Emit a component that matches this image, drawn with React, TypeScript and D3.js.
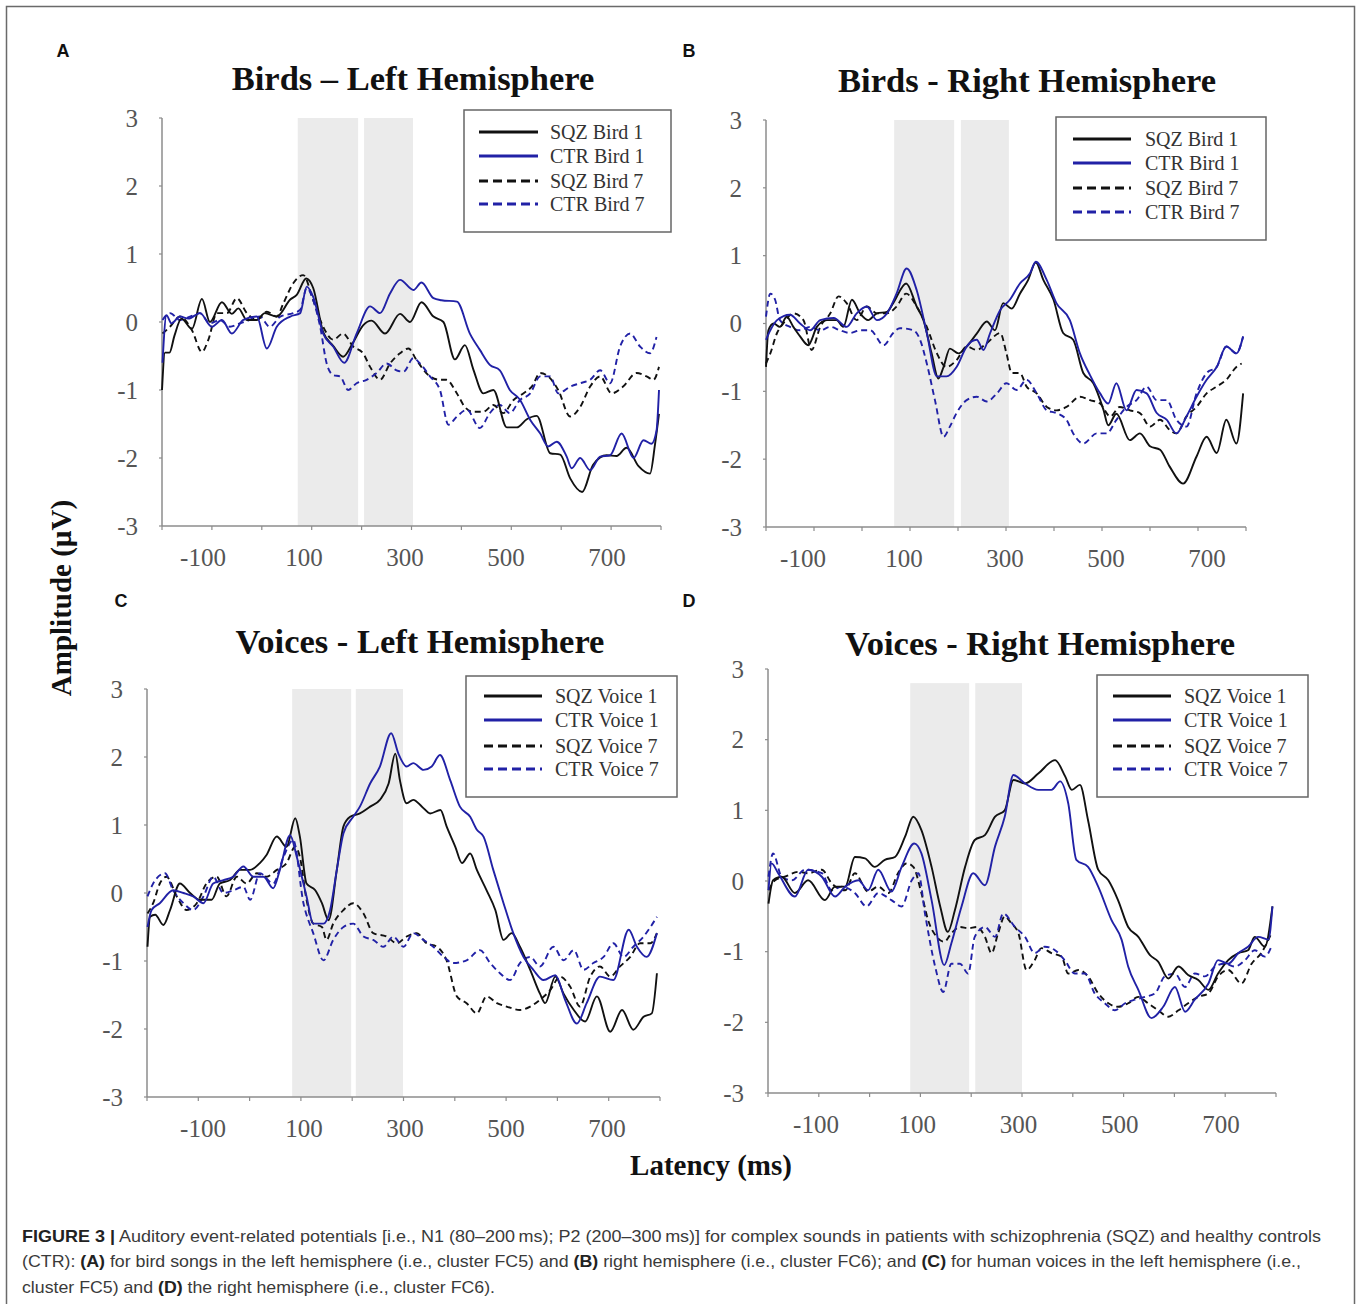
import React from "react";
import * as d3 from "d3";

type Pt = [number, number];

// ---------- tick values and labels ----------
const yTickValues = [-3, -2, -1, 0, 1, 2, 3];
const xTickValues = [-200, -100, 0, 100, 200, 300, 400, 500, 600, 700, 800];
const xTickLabels = [-100, 100, 300, 500, 700];
const birdLabels = ["SQZ Bird 1", "CTR Bird 1", "SQZ Bird 7", "CTR Bird 7"];
const voiceLabels = ["SQZ Voice 1", "CTR Voice 1", "SQZ Voice 7", "CTR Voice 7"];
const panelTitles = ["Birds \u2013 Left Hemisphere", "Birds - Right Hemisphere", "Voices - Left Hemisphere", "Voices - Right Hemisphere"];
const panelLetters = ["A", "B", "C", "D"];

// ---------- time windows (ms): N1 and P2 shaded bands ----------
const bandsA: Pt[] = [[72, 193], [205, 303]];
const bandsB: Pt[] = [[67, 192], [206, 306]];
const bandsC: Pt[] = [[83, 198], [207, 299]];
const bandsD: Pt[] = [[80, 196], [208, 300]];

// ---------- data: [latency ms, amplitude µV] ----------
const birdsLeftSqz1: Pt[] = [[-200,-1.0],[-194,-0.45],[-185,-0.45],[-175,-0.2],[-161,0.05],[-140,-0.1],[-120,0.34],[-104,0.0],[-80,0.29],[-60,0.12],[-47,0.2],[-30,0.03],[-10,0.03],[6,0.13],[30,0.08],[57,0.33],[70,0.4],[89,0.64],[103,0.5],[123,-0.15],[143,-0.35],[163,-0.51],[183,-0.3],[203,-0.05],[220,0.02],[247,-0.17],[277,0.12],[297,0.0],[320,0.29],[344,0.08],[364,0.0],[387,-0.55],[407,-0.34],[424,-0.7],[444,-1.05],[464,-1.0],[491,-1.55],[511,-1.55],[531,-1.43],[551,-1.38],[578,-1.93],[598,-1.95],[618,-2.3],[642,-2.5],[664,-2.1],[691,-1.96],[711,-1.97],[731,-1.85],[755,-2.12],[778,-2.23],[788,-1.8],[796,-1.35]];
const birdsLeftCtr1: Pt[] = [[-199,-0.6],[-191,0.1],[-181,-0.02],[-164,0.08],[-147,0.05],[-124,0.13],[-100,-0.07],[-80,0.03],[-60,-0.17],[-37,0.03],[-10,0.08],[10,-0.39],[30,-0.07],[57,0.08],[77,0.13],[90,0.52],[103,0.37],[123,-0.17],[143,-0.36],[165,-0.6],[190,-0.17],[217,0.23],[237,0.13],[257,0.42],[277,0.62],[304,0.47],[320,0.58],[344,0.35],[360,0.32],[391,0.3],[417,-0.17],[437,-0.41],[457,-0.63],[477,-0.71],[497,-1.0],[517,-1.14],[538,-1.44],[558,-1.64],[574,-1.83],[591,-1.76],[611,-1.98],[621,-2.15],[638,-2.0],[658,-2.18],[678,-1.98],[698,-1.96],[721,-1.64],[745,-2.0],[765,-1.74],[781,-1.79],[791,-1.6],[796,-1.0]];
const birdsLeftSqz7: Pt[] = [[-199,-0.17],[-184,-0.07],[-164,0.08],[-140,-0.12],[-120,-0.44],[-107,-0.26],[-90,0.13],[-70,0.13],[-50,0.35],[-30,0.13],[-10,0.03],[10,0.15],[30,0.08],[43,0.27],[63,0.57],[83,0.69],[103,0.32],[123,-0.07],[143,-0.26],[163,-0.17],[183,-0.36],[203,-0.46],[217,-0.66],[237,-0.85],[257,-0.61],[277,-0.46],[294,-0.39],[310,-0.56],[337,-0.8],[357,-0.85],[370,-0.85],[391,-1.05],[407,-1.25],[424,-1.32],[444,-1.32],[464,-1.22],[484,-1.34],[504,-1.15],[524,-1.05],[541,-0.95],[558,-0.75],[574,-0.8],[594,-1.0],[618,-1.39],[638,-1.25],[658,-0.95],[678,-0.8],[701,-1.05],[724,-0.95],[751,-0.75],[771,-0.8],[785,-0.85],[796,-0.66]];
const birdsLeftCtr7: Pt[] = [[-199,0.03],[-184,0.13],[-164,0.03],[-144,0.08],[-124,0.13],[-104,-0.02],[-84,0.03],[-64,-0.07],[-44,-0.02],[-24,0.03],[-4,0.08],[16,-0.07],[37,0.08],[63,0.13],[77,0.18],[90,0.5],[103,0.32],[117,-0.07],[130,-0.61],[143,-0.78],[157,-0.8],[173,-1.0],[190,-0.9],[210,-0.85],[230,-0.75],[250,-0.61],[270,-0.71],[284,-0.73],[304,-0.53],[317,-0.61],[337,-0.8],[357,-1.0],[374,-1.51],[391,-1.39],[411,-1.29],[437,-1.56],[457,-1.34],[477,-1.22],[497,-1.34],[517,-1.15],[538,-1.05],[558,-0.8],[578,-0.8],[594,-1.05],[618,-0.95],[638,-0.9],[658,-0.85],[678,-0.71],[698,-0.9],[718,-0.36],[738,-0.17],[758,-0.36],[778,-0.46],[791,-0.22]];

const birdsRightSqz1: Pt[] = [[-200,-0.64],[-195,-0.1],[-184,0.0],[-171,-0.05],[-157,0.1],[-143,-0.05],[-129,-0.19],[-112,-0.32],[-94,-0.05],[-73,0.05],[-53,0.05],[-39,-0.05],[-21,0.35],[-4,0.15],[13,0.05],[31,0.15],[52,0.17],[65,0.3],[92,0.59],[114,0.25],[128,0.05],[145,-0.44],[159,-0.81],[170,-0.64],[183,-0.37],[201,-0.44],[218,-0.34],[239,-0.15],[260,0.03],[277,-0.1],[294,0.3],[312,0.22],[329,0.44],[346,0.64],[362,0.9],[378,0.64],[399,0.35],[419,-0.14],[440,-0.24],[461,-0.73],[482,-0.88],[503,-1.27],[513,-1.5],[530,-1.33],[558,-1.72],[579,-1.62],[600,-1.81],[621,-1.86],[641,-2.11],[669,-2.36],[697,-1.96],[718,-1.67],[739,-1.91],[759,-1.42],[780,-1.77],[794,-1.03]];
const birdsRightCtr1: Pt[] = [[-200,-0.24],[-191,-0.1],[-177,0.05],[-150,0.13],[-129,0.0],[-108,-0.1],[-87,0.05],[-59,0.08],[-32,-0.05],[-11,0.15],[10,0.25],[31,0.05],[52,0.15],[72,0.44],[93,0.81],[114,0.49],[135,-0.14],[156,-0.78],[176,-0.78],[197,-0.64],[218,-0.34],[239,-0.24],[253,-0.39],[267,-0.14],[288,0.2],[308,0.35],[329,0.59],[350,0.74],[362,0.91],[385,0.64],[405,0.3],[433,0.05],[454,-0.44],[475,-0.76],[496,-1.03],[513,-1.18],[530,-0.88],[551,-1.28],[572,-0.98],[593,-1.03],[614,-1.32],[635,-1.42],[655,-1.62],[676,-1.37],[697,-1.08],[718,-0.83],[739,-0.64],[759,-0.34],[780,-0.44],[794,-0.19]];
const birdsRightSqz7: Pt[] = [[-200,-0.59],[-191,-0.44],[-177,-0.14],[-164,0.0],[-143,0.15],[-122,0.05],[-105,-0.39],[-87,-0.05],[-66,0.15],[-49,0.4],[-32,0.3],[-11,0.05],[10,0.25],[31,0.15],[52,0.15],[72,0.25],[92,0.44],[114,0.25],[135,-0.05],[156,-0.44],[176,-0.64],[197,-0.54],[218,-0.34],[239,-0.39],[260,-0.29],[288,-0.14],[301,-0.44],[312,-0.73],[329,-0.73],[343,-0.93],[364,-1.03],[385,-1.23],[405,-1.28],[426,-1.23],[454,-1.08],[475,-1.13],[496,-1.18],[517,-1.37],[537,-1.23],[558,-1.28],[579,-1.32],[600,-1.52],[621,-1.42],[641,-1.57],[655,-1.62],[676,-1.37],[697,-1.23],[718,-1.03],[739,-0.93],[759,-0.83],[780,-0.64],[791,-0.59]];
const birdsRightCtr7: Pt[] = [[-200,0.1],[-191,0.44],[-181,0.35],[-171,0.05],[-150,-0.05],[-129,-0.1],[-108,-0.05],[-87,-0.1],[-66,-0.05],[-46,-0.1],[-25,-0.14],[-4,-0.1],[17,-0.1],[45,-0.32],[65,-0.14],[79,-0.07],[107,-0.1],[121,-0.24],[135,-0.59],[152,-1.13],[170,-1.67],[183,-1.52],[197,-1.32],[218,-1.13],[239,-1.08],[260,-1.15],[281,-1.03],[301,-0.88],[322,-0.98],[343,-0.83],[364,-1.03],[385,-1.28],[405,-1.32],[426,-1.42],[440,-1.62],[461,-1.77],[489,-1.62],[510,-1.62],[530,-1.42],[551,-1.23],[572,-1.13],[593,-0.93],[614,-1.13],[635,-1.13],[655,-1.42],[676,-1.52],[697,-1.03],[718,-0.73],[739,-0.64],[759,-0.34],[780,-0.44],[794,-0.19]];

const voicesLeftSqz1: Pt[] = [[-199,-0.79],[-194,-0.35],[-184,-0.32],[-168,-0.47],[-155,-0.25],[-136,0.14],[-116,0.0],[-97,-0.1],[-74,-0.1],[-58,0.14],[-38,0.19],[-19,0.34],[1,0.34],[20,0.44],[33,0.56],[53,0.83],[72,0.68],[89,1.1],[98,0.83],[111,0.14],[128,0.04],[141,-0.15],[154,-0.4],[170,0.34],[183,0.98],[196,1.12],[215,1.17],[235,1.27],[254,1.37],[271,1.61],[284,2.05],[293,1.66],[306,1.32],[319,1.37],[336,1.27],[352,1.17],[372,1.22],[384,0.98],[401,0.68],[414,0.44],[430,0.58],[443,0.34],[462,0.04],[479,-0.25],[495,-0.69],[511,-0.59],[527,-0.79],[547,-1.13],[566,-1.48],[576,-1.62],[596,-1.23],[612,-1.48],[632,-1.72],[654,-1.89],[677,-1.52],[703,-2.04],[726,-1.72],[748,-2.01],[768,-1.82],[784,-1.77],[794,-1.18]];
const voicesLeftCtr1: Pt[] = [[-199,-0.5],[-191,-0.25],[-175,-0.15],[-149,0.04],[-129,0.0],[-110,-0.05],[-90,-0.15],[-71,0.14],[-51,0.19],[-32,0.24],[-12,0.39],[7,0.24],[27,0.24],[46,0.07],[59,0.34],[79,0.85],[92,0.53],[111,-0.05],[124,-0.45],[144,-0.45],[157,-0.25],[170,0.34],[183,0.88],[202,1.12],[215,1.27],[235,1.61],[254,1.86],[276,2.35],[290,2.05],[306,1.86],[319,1.91],[339,1.81],[355,1.86],[371,2.03],[391,1.66],[410,1.27],[430,1.12],[443,0.93],[456,0.83],[475,0.34],[495,-0.15],[514,-0.59],[534,-0.94],[553,-1.13],[573,-1.28],[596,-1.21],[615,-1.57],[638,-1.92],[657,-1.62],[683,-1.23],[709,-1.28],[739,-0.54],[755,-0.79],[774,-0.94],[794,-0.59]];
const voicesLeftSqz7: Pt[] = [[-199,-0.3],[-188,-0.15],[-175,0.14],[-162,0.24],[-142,-0.05],[-123,-0.25],[-103,-0.15],[-84,0.14],[-64,0.24],[-45,-0.05],[-25,0.24],[-6,0.14],[14,0.29],[33,0.24],[53,0.34],[72,0.44],[89,0.68],[98,0.53],[111,-0.1],[124,-0.45],[141,-0.5],[150,-0.69],[163,-0.45],[183,-0.25],[202,-0.15],[222,-0.3],[241,-0.59],[267,-0.64],[287,-0.74],[306,-0.64],[326,-0.59],[345,-0.74],[365,-0.79],[384,-0.99],[404,-1.52],[423,-1.62],[443,-1.77],[462,-1.52],[482,-1.62],[501,-1.67],[527,-1.72],[547,-1.67],[566,-1.57],[586,-1.43],[605,-1.23],[625,-1.38],[644,-1.67],[664,-1.23],[683,-1.08],[703,-1.23],[722,-1.08],[742,-0.94],[761,-0.74],[781,-0.74],[794,-0.59]];
const voicesLeftCtr7: Pt[] = [[-199,-0.05],[-188,0.14],[-165,0.29],[-149,0.04],[-129,-0.15],[-110,-0.25],[-90,-0.05],[-71,0.24],[-51,0.0],[-32,0.04],[-12,0.09],[1,-0.1],[20,0.29],[46,0.14],[66,0.53],[85,0.78],[105,-0.15],[124,-0.59],[144,-0.99],[163,-0.69],[183,-0.5],[202,-0.45],[222,-0.64],[241,-0.69],[261,-0.79],[280,-0.64],[300,-0.79],[319,-0.59],[339,-0.69],[358,-0.79],[378,-0.94],[397,-1.03],[423,-0.99],[449,-0.84],[469,-1.03],[488,-1.18],[508,-1.28],[527,-1.03],[547,-0.94],[566,-1.08],[592,-0.79],[612,-0.99],[632,-0.84],[651,-1.13],[670,-1.03],[690,-0.94],[709,-0.74],[729,-0.94],[748,-0.79],[768,-0.64],[794,-0.35]];

const voicesRightSqz1: Pt[] = [[-199,-0.32],[-190,0.01],[-173,0.06],[-147,-0.17],[-121,0.01],[-88,-0.27],[-68,-0.08],[-48,-0.08],[-29,0.34],[-9,0.32],[10,0.2],[30,0.3],[50,0.34],[70,0.63],[86,0.91],[102,0.72],[122,0.2],[139,-0.36],[154,-0.72],[168,-0.41],[188,0.2],[207,0.58],[227,0.65],[247,0.91],[266,1.0],[283,1.43],[306,1.38],[332,1.52],[365,1.71],[385,1.48],[398,1.29],[414,1.36],[430,0.86],[450,0.16],[470,0.01],[489,-0.27],[509,-0.65],[529,-0.79],[552,-1.05],[568,-1.14],[588,-1.38],[608,-1.21],[627,-1.33],[647,-1.4],[667,-1.54],[686,-1.31],[706,-1.12],[726,-1.02],[745,-0.98],[758,-0.79],[778,-0.93],[793,-0.36]];
const voicesRightCtr1: Pt[] = [[-199,-0.13],[-193,0.25],[-180,0.11],[-147,-0.22],[-121,0.16],[-94,0.06],[-68,-0.22],[-48,-0.08],[-22,0.01],[-3,-0.13],[17,0.16],[43,-0.15],[63,0.2],[88,0.53],[102,0.39],[122,-0.27],[147,-1.19],[161,-0.88],[181,-0.36],[204,0.11],[227,-0.06],[247,0.49],[266,0.91],[283,1.5],[306,1.38],[332,1.29],[358,1.29],[375,1.41],[391,1.1],[407,0.3],[430,0.2],[450,-0.08],[476,-0.55],[496,-0.83],[509,-1.21],[529,-1.54],[555,-1.94],[578,-1.78],[601,-1.5],[621,-1.85],[640,-1.68],[667,-1.45],[686,-1.12],[706,-1.17],[726,-1.02],[745,-0.93],[765,-0.79],[785,-0.83],[793,-0.36]];
const voicesRightSqz7: Pt[] = [[-199,-0.13],[-186,0.01],[-167,0.06],[-140,0.13],[-121,0.11],[-94,0.16],[-75,-0.03],[-48,-0.13],[-29,0.11],[-3,-0.15],[17,-0.08],[37,-0.17],[56,0.11],[73,0.25],[86,0.2],[102,-0.17],[115,-0.55],[132,-0.79],[147,-0.86],[161,-0.74],[178,-0.65],[194,-0.67],[211,-0.65],[227,-0.79],[240,-1.02],[253,-0.74],[266,-0.5],[279,-0.6],[293,-0.74],[309,-1.26],[325,-1.12],[338,-0.95],[358,-1.02],[378,-1.07],[391,-1.31],[411,-1.26],[430,-1.35],[450,-1.59],[470,-1.73],[489,-1.78],[509,-1.73],[529,-1.64],[548,-1.73],[568,-1.83],[588,-1.92],[608,-1.83],[627,-1.73],[647,-1.64],[667,-1.59],[686,-1.35],[706,-1.26],[732,-1.45],[752,-1.17],[771,-1.02],[791,-0.74]];
const voicesRightCtr7: Pt[] = [[-199,0.06],[-190,0.39],[-173,0.06],[-153,0.01],[-127,0.16],[-94,0.11],[-75,-0.13],[-55,-0.08],[-29,-0.17],[-6,-0.36],[17,-0.17],[43,-0.27],[63,-0.36],[83,0.01],[96,0.11],[109,-0.46],[129,-1.21],[145,-1.57],[161,-1.17],[178,-1.17],[194,-1.31],[207,-0.79],[227,-0.65],[247,-0.79],[263,-0.46],[286,-0.65],[306,-0.79],[325,-1.02],[345,-0.93],[365,-0.98],[384,-1.12],[404,-1.31],[424,-1.31],[443,-1.59],[463,-1.73],[483,-1.83],[503,-1.73],[522,-1.68],[542,-1.64],[562,-1.59],[581,-1.35],[601,-1.31],[621,-1.5],[640,-1.31],[660,-1.35],[680,-1.21],[699,-1.17],[719,-1.21],[739,-1.12],[758,-0.98],[778,-1.07],[791,-0.93]];

// ---------- styles ----------
const BLACK = "#111111";
const BLUE = "#2121a6";
const seriesStyles = [
  { color: BLACK, dash: null as string | null },
  { color: BLUE, dash: null as string | null },
  { color: BLACK, dash: "6,4" },
  { color: BLUE, dash: "6,4" },
];

type Panel = {
  title: string; letter: string; labels: string[]; series: Pt[][]; bands: Pt[];
  x0: number; x1: number; yTop: number; yBot: number; bandTop: number;
  lab0: number; lab1: number;
  titleX: number; titleY: number; letterX: number; letterY: number;
  legend: { x: number; y: number; w: number; h: number; rows: number[]; lx0: number; lx1: number; tx: number };
};

const panels: Panel[] = [
  { title: panelTitles[0], letter: panelLetters[0], labels: birdLabels, series: [birdsLeftSqz1, birdsLeftCtr1, birdsLeftSqz7, birdsLeftCtr7], bands: bandsA,
    x0: 162, x1: 661, yTop: 118, yBot: 526, bandTop: 3, lab0: 203, lab1: 607, titleX: 413, titleY: 90, letterX: 63, letterY: 57,
    legend: { x: 464, y: 110, w: 207, h: 122, rows: [132, 156, 181, 204], lx0: 479, lx1: 538, tx: 550 } },
  { title: panelTitles[1], letter: panelLetters[1], labels: birdLabels, series: [birdsRightSqz1, birdsRightCtr1, birdsRightSqz7, birdsRightCtr7], bands: bandsB,
    x0: 766, x1: 1246, yTop: 120, yBot: 527, bandTop: 3, lab0: 803, lab1: 1207, titleX: 1027, titleY: 92, letterX: 689, letterY: 57,
    legend: { x: 1056, y: 117, w: 210, h: 123, rows: [139, 163, 188, 212], lx0: 1073, lx1: 1131, tx: 1145 } },
  { title: panelTitles[2], letter: panelLetters[2], labels: voiceLabels, series: [voicesLeftSqz1, voicesLeftCtr1, voicesLeftSqz7, voicesLeftCtr7], bands: bandsC,
    x0: 147, x1: 660, yTop: 689, yBot: 1097, bandTop: 3, lab0: 203, lab1: 607, titleX: 420, titleY: 653, letterX: 121, letterY: 607,
    legend: { x: 466, y: 676, w: 211, h: 121, rows: [696, 720, 746, 769], lx0: 484, lx1: 542, tx: 555 } },
  { title: panelTitles[3], letter: panelLetters[3], labels: voiceLabels, series: [voicesRightSqz1, voicesRightCtr1, voicesRightSqz7, voicesRightCtr7], bands: bandsD,
    x0: 768, x1: 1276, yTop: 669, yBot: 1093, bandTop: 2.8, lab0: 816, lab1: 1221, titleX: 1040, titleY: 655, letterX: 689, letterY: 607,
    legend: { x: 1097, y: 675, w: 211, h: 122, rows: [696, 720, 746, 769], lx0: 1113, lx1: 1171, tx: 1184 } },
];

const SERIF = "'Liberation Serif', 'Times New Roman', serif";
const SANS = "'Liberation Sans', Arial, Helvetica, sans-serif";

function PanelView({ p }: { p: Panel }) {
  const x = d3.scaleLinear().domain([-200, 800]).range([p.x0, p.x1]);
  const y = d3.scaleLinear().domain([-3, 3]).range([p.yBot, p.yTop]);
  const xLab = d3.scaleLinear().domain([-100, 700]).range([p.lab0, p.lab1]);
  const line = d3.line<Pt>().x((d) => x(d[0])).y((d) => y(d[1])).curve(d3.curveMonotoneX);
  const order = [2, 3, 0, 1];
  return (
    <g>
      {p.bands.map((b, i) => (
        <rect key={i} x={x(b[0])} y={y(p.bandTop)} width={x(b[1]) - x(b[0])} height={y(-3) - y(p.bandTop)} fill="#ebebeb" />
      ))}
      {/* axes */}
      <line x1={p.x0} x2={p.x0} y1={y(3)} y2={y(-3)} stroke="#8c8c8c" strokeWidth={1.5} />
      <line x1={p.x0} x2={p.x1} y1={y(-3)} y2={y(-3)} stroke="#8c8c8c" strokeWidth={1.5} />
      {yTickValues.map((t) => (
        <g key={"y" + t}>
          <line x1={p.x0 - 3} x2={p.x0} y1={y(t)} y2={y(t)} stroke="#8c8c8c" strokeWidth={1.2} />
          <text x={p.x0 - 24} y={y(t)} dy="0.35em" textAnchor="end" fontFamily={SERIF} fontSize={25} fill="#555">
            {t < 0 ? "-" + Math.abs(t) : String(t)}
          </text>
        </g>
      ))}
      {xTickValues.map((t) => (
        <line key={"x" + t} x1={x(t)} x2={x(t)} y1={y(-3)} y2={y(-3) + 4} stroke="#8c8c8c" strokeWidth={1.2} />
      ))}
      {xTickLabels.map((t) => (
        <text key={"xl" + t} x={xLab(t)} y={y(-3) + 40} textAnchor="middle" fontFamily={SERIF} fontSize={25} fill="#555">
          {t < 0 ? "-" + Math.abs(t) : String(t)}
        </text>
      ))}
      {/* series */}
      {order.map((i) => (
        <path key={"s" + i} d={line(p.series[i]) || ""} fill="none" stroke={seriesStyles[i].color}
          strokeWidth={1.9} strokeDasharray={seriesStyles[i].dash || undefined} strokeLinejoin="round" />
      ))}
      {/* title */}
      <text x={p.titleX} y={p.titleY} textAnchor="middle" fontFamily={SERIF} fontWeight="bold" fontSize={34.5} fill="#111">{p.title}</text>
      <text x={p.letterX} y={p.letterY} textAnchor="middle" fontFamily={SANS} fontWeight="bold" fontSize={18} fill="#111">{p.letter}</text>
      {/* legend */}
      <rect x={p.legend.x} y={p.legend.y} width={p.legend.w} height={p.legend.h} fill="#fff" stroke="#666" strokeWidth={1.5} />
      {p.labels.map((lab, i) => (
        <g key={"lg" + i}>
          <line x1={p.legend.lx0} x2={p.legend.lx1} y1={p.legend.rows[i]} y2={p.legend.rows[i]} stroke={seriesStyles[i].color}
            strokeWidth={3} strokeDasharray={seriesStyles[i].dash ? "9,5" : undefined} />
          <text x={p.legend.tx} y={p.legend.rows[i]} dy="0.35em" fontFamily={SERIF} fontSize={20} fill="#333">{lab}</text>
        </g>
      ))}
    </g>
  );
}

const captionLine1 = ["FIGURE 3 |", " Auditory event-related potentials [i.e., N1 (80\u2013200\u2009ms); P2 (200\u2013300\u2009ms)] for complex sounds in patients with schizophrenia (SQZ) and healthy controls"];
const captionLine2 = ["(CTR): ", "(A)", " for bird songs in the left hemisphere (i.e., cluster FC5) and ", "(B)", " right hemisphere (i.e., cluster FC6); and ", "(C)", " for human voices in the left hemisphere (i.e.,"];
const captionLine3 = ["cluster FC5) and ", "(D)", " the right hemisphere (i.e., cluster FC6)."];

function CaptionLine({ parts, boldIdx, y, width }: { parts: string[]; boldIdx: number[]; y: number; width: number }) {
  return (
    <text x={22} y={y} fontFamily={SANS} fontSize={16.5} fill="#3a3a3a" textLength={width} lengthAdjust="spacingAndGlyphs">
      {parts.map((s, i) => (
        <tspan key={i} fontWeight={boldIdx.includes(i) ? "bold" : "normal"} fill={boldIdx.includes(i) ? "#222" : "#3a3a3a"}>{s}</tspan>
      ))}
    </text>
  );
}

export default function App() {
  return (
    <div style={{ position: "absolute", left: 0, top: 0 }}>
      <svg width={1358} height={1304} viewBox="0 0 1358 1304" style={{ display: "block", background: "#fff" }}>
        <rect x={6.5} y={6.5} width={1348} height={1310} fill="none" stroke="#6a6a6a" strokeWidth={1.5} />
        {panels.map((p, i) => <PanelView key={i} p={p} />)}
        <text transform="translate(71,598) rotate(-90)" textAnchor="middle" fontFamily={SERIF} fontWeight="bold" fontSize={29} fill="#111">Amplitude (µV)</text>
        <text x={711} y={1175} textAnchor="middle" fontFamily={SERIF} fontWeight="bold" fontSize={29} fill="#111">Latency (ms)</text>
        <CaptionLine parts={captionLine1} boldIdx={[0]} y={1242} width={1299} />
        <CaptionLine parts={captionLine2} boldIdx={[1, 3, 5]} y={1267} width={1279} />
        <CaptionLine parts={captionLine3} boldIdx={[1]} y={1293} width={473} />
      </svg>
    </div>
  );
}
